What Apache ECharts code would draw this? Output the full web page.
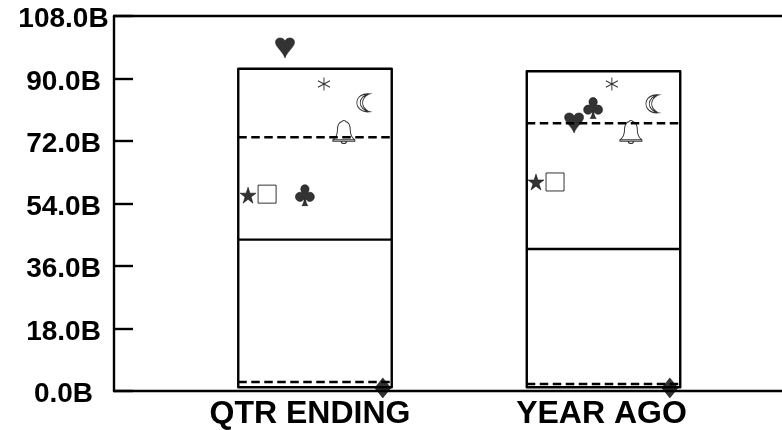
<!DOCTYPE html>
<html>
<head>
<meta charset="utf-8">
<style>
  html, body { margin: 0; padding: 0; background: #fff; }
  #chart { width: 782px; height: 430px; }
</style>
<script src="https://cdn.jsdelivr.net/npm/echarts@6/dist/echarts.min.js"></script>
</head>
<body>
<div id="chart"></div>
<script>
const categories = ['QTR ENDING', 'YEAR AGO']
const yTicks = [0, 18, 36, 54, 72, 90, 108]

// box values, billions, one per category
const boxTop = [92.8, 92.1]
const boxMedian = [43.6, 40.9]
const boxBottom = [1.1, 1.1]
const upperDash = [73.1, 77.1]
const lowerDash = [2.6, 2.0]

// markers: value per category, and sideways offset from box centre (in category widths)
const heartValues = [98.8, 77.2]
const heartOffsets = [-0.104, -0.102]
const asteriskValues = [88.4, 88.4]
const asteriskOffsets = [0.031, 0.029]
const moonValues = [83.0, 82.7]
const moonOffsets = [0.166, 0.168]
const bellValues = [74.6, 74.6]
const bellOffsets = [0.10, 0.095]
const starValues = [56.4, 60.2]
const starOffsets = [-0.232, -0.234]
const squareValues = [56.7, 60.2]
const squareOffsets = [-0.166, -0.168]
const clubValues = [56.4, 81.5]
const clubOffsets = [-0.035, -0.036]
const diamondValues = [0.9, 0.9]
const diamondOffsets = [0.235, 0.23]

const boxHalfWidth = 0.266

const HEART = 'path://M50 100 C40 70 0 45 0 22 C0 8 10 0 24 0 C36 0 46 6 50 16 C54 6 64 0 76 0 C90 0 100 8 100 22 C100 45 60 70 50 100 Z'
const CLUB = 'path://M50 0 C63 0 72 10 72 21 C72 28 69 33 65 38 C68 37 71 36 75 36 C89 36 100 46 100 58 C100 71 89 80 76 80 C66 80 58 74 54 66 C54 80 58 92 66 100 L34 100 C42 92 46 80 46 66 C42 74 34 80 24 80 C11 80 0 71 0 58 C0 46 11 36 25 36 C29 36 32 37 35 38 C31 33 28 28 28 21 C28 10 37 0 50 0 Z'
const STAR = 'path://M50 0 L62 36 L100 36 L69 59 L81 96 L50 73 L19 96 L31 59 L0 36 L38 36 Z'
const DIAMOND = 'path://M50 0 L100 50 L50 100 L0 50 Z'
const MOON = 'path://M80 0 C45 6 22 28 22 50 C22 72 45 94 80 100 C40 104 0 84 0 50 C0 16 40 -4 80 0 Z M80 0 C58 10 38 28 38 50 C38 72 58 90 80 100'
const ASTERISK = 'path://M50 0 L50 100 M6 25 L94 75 M6 75 L94 25'
const BELL = 'path://M42 8 C42 2 58 2 58 8 C74 12 78 26 78 44 C78 62 84 74 98 84 L98 90 L2 90 L2 84 C16 74 22 62 22 44 C22 26 26 12 42 8 Z M2 84 L98 84 M38 90 C40 102 60 102 62 90'

function markerSeries (name, symbol, size, values, offsets, filled) {
  return {
    name,
    type: 'scatter',
    xAxisIndex: 0,
    yAxisIndex: 0,
    symbol,
    symbolSize: size,
    itemStyle: filled
      ? { color: '#000', borderColor: '#000', borderWidth: 0.6 }
      : { color: 'transparent', borderColor: '#000', borderWidth: 1 },
    z: 5,
    silent: true,
    data: values.map((v, i) => [i + offsets[i], v])
  }
}

function renderBox (params, api) {
  const i = api.value(0)
  const hw = api.size([boxHalfWidth, 0])[0]
  const cx = api.coord([i, 0])[0]
  const left = cx - hw
  const right = cx + hw
  const yAt = v => api.coord([i, v])[1]
  const top = yAt(api.value(1))
  const median = yAt(api.value(2))
  const bottom = yAt(api.value(3))
  const upper = yAt(api.value(4))
  const lower = yAt(api.value(5))
  const solid = { stroke: '#000', lineWidth: 2.4, fill: null }
  const dashed = { stroke: '#000', lineWidth: 2.4, lineDash: [8.5, 4.5] }
  return {
    type: 'group',
    children: [
      { type: 'rect', shape: { x: left, y: top, width: right - left, height: bottom - top }, style: { stroke: '#000', lineWidth: 2.4, fill: null, lineJoin: 'round' } },
      { type: 'line', shape: { x1: left, y1: median, x2: right, y2: median }, style: solid },
      { type: 'line', shape: { x1: left, y1: upper, x2: right, y2: upper }, style: dashed },
      { type: 'line', shape: { x1: left, y1: lower, x2: right, y2: lower }, style: dashed }
    ]
  }
}

const chart = echarts.init(document.getElementById('chart'))
const fontFamily = '"Liberation Sans", Arial, sans-serif'

chart.setOption({
  animation: false,
  backgroundColor: '#fff',
  grid: [
    { left: 114, top: 16, width: 668, height: 375, show: false },
    { left: 164.25, top: 16, width: 583, height: 375, show: false }
  ],
  xAxis: [
    {
      gridIndex: 0,
      type: 'value',
      min: -0.6967,
      max: 1.6187,
      axisLine: { show: true, onZero: false, lineStyle: { color: '#000', width: 2.4 } },
      axisTick: { show: false },
      axisLabel: { show: false },
      splitLine: { show: false }
    },
    {
      gridIndex: 0,
      type: 'value',
      position: 'top',
      min: 0,
      max: 1,
      axisLine: { show: true, onZero: false, lineStyle: { color: '#000', width: 2.4 } },
      axisTick: { show: false },
      axisLabel: { show: false },
      splitLine: { show: false }
    },
    {
      gridIndex: 1,
      type: 'category',
      data: categories,
      axisLine: { show: false },
      axisTick: { show: false },
      axisLabel: {
        show: true,
        color: '#000',
        fontFamily,
        fontWeight: 'bold',
        fontSize: 32,
        margin: 7.5,
        interval: 0
      },
      splitLine: { show: false }
    }
  ],
  yAxis: [
    {
      gridIndex: 0,
      type: 'value',
      min: 0,
      max: 108,
      interval: 18,
      axisLine: { show: true, onZero: false, lineStyle: { color: '#000', width: 2.4 } },
      axisTick: { show: true, inside: true, length: 19, lineStyle: { color: '#000', width: 2.4 } },
      axisLabel: {
        show: true,
        color: '#000',
        fontFamily,
        fontWeight: 'bold',
        fontSize: 28,
        align: 'center',
        verticalAlign: 'top',
        lineHeight: 7,
        margin: 50.5,
        formatter: v => yTicks.includes(v) ? v.toFixed(1) + 'B' : ''
      },
      splitLine: { show: false }
    },
    {
      gridIndex: 1,
      type: 'value',
      min: 0,
      max: 108,
      show: false
    }
  ],
  series: [
    {
      type: 'custom',
      xAxisIndex: 0,
      yAxisIndex: 0,
      silent: true,
      z: 2,
      renderItem: renderBox,
      encode: { x: 0, y: 1 },
      data: categories.map((c, i) => [i, boxTop[i], boxMedian[i], boxBottom[i], upperDash[i], lowerDash[i]])
    },
    markerSeries('heart', HEART, [19, 20], heartValues, heartOffsets, true),
    markerSeries('asterisk', ASTERISK, [12, 13], asteriskValues, asteriskOffsets, false),
    markerSeries('moon', MOON, [12, 18], moonValues, moonOffsets, false),
    markerSeries('bell', BELL, [22, 23], bellValues, bellOffsets, false),
    markerSeries('star', STAR, [16, 16], starValues, starOffsets, true),
    markerSeries('square', 'rect', [18, 18], squareValues, squareOffsets, false),
    markerSeries('club', CLUB, [19, 21], clubValues, clubOffsets, true),
    markerSeries('diamond', DIAMOND, [16, 20], diamondValues, diamondOffsets, true)
  ]
})
</script>
</body>
</html>
